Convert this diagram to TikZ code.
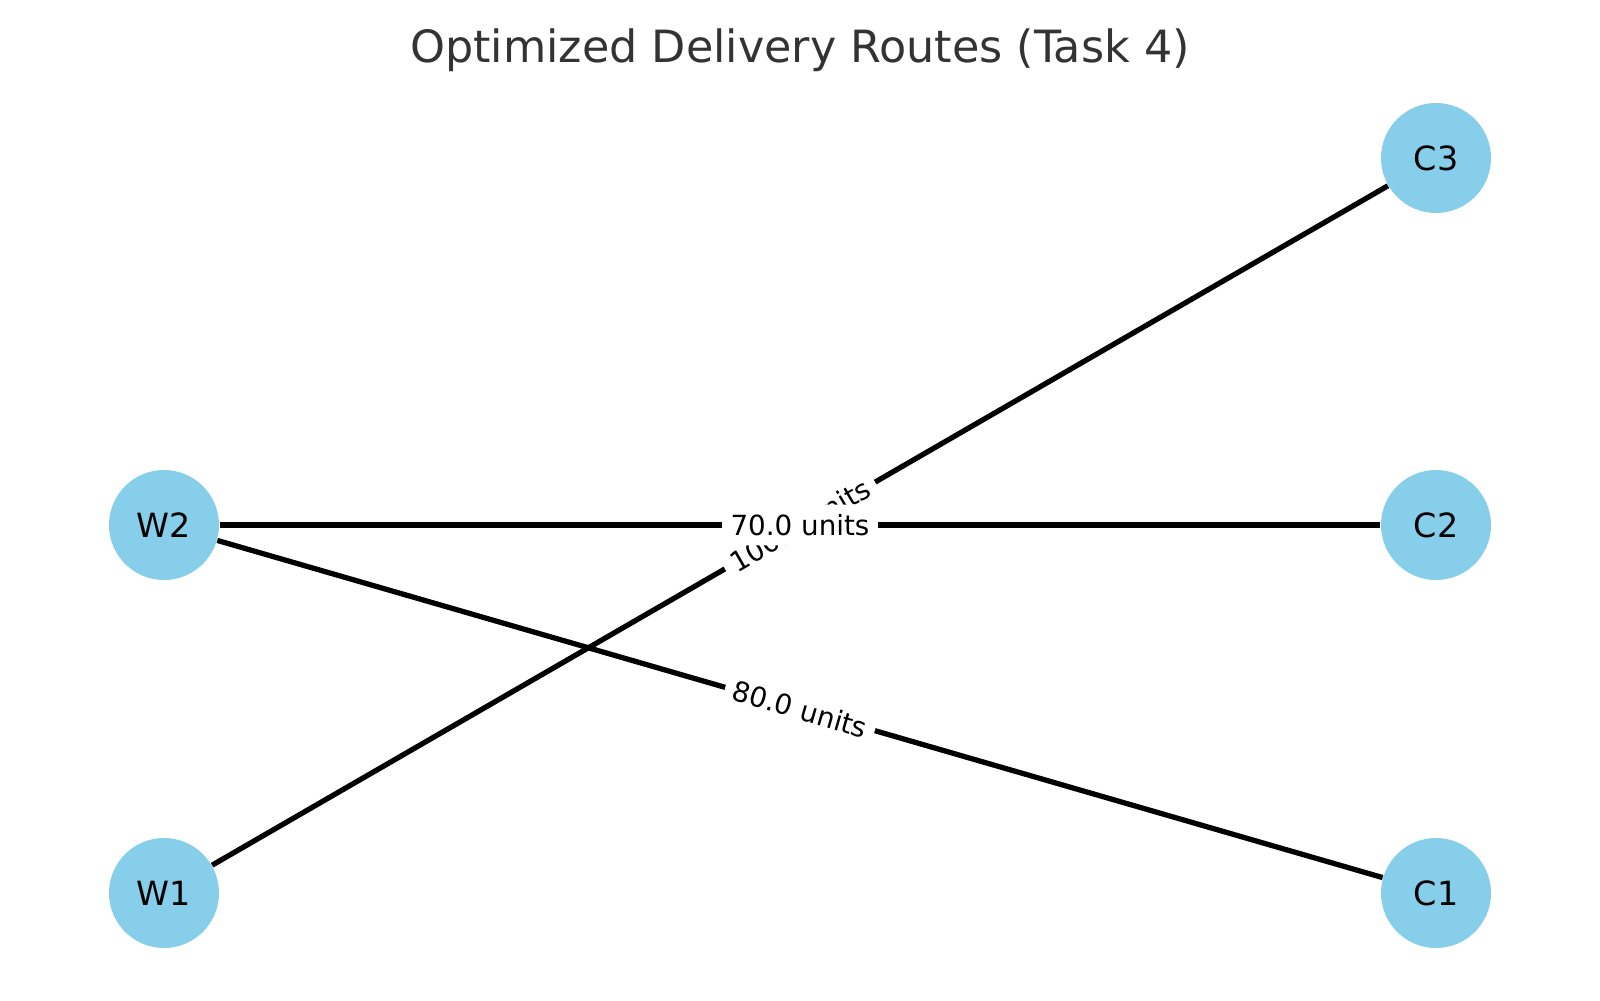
\documentclass[tikz,border=0pt]{standalone}
\usepackage{fontspec}
\setmainfont{DejaVu Sans}
\definecolor{skyblue}{HTML}{87CEEB}
\definecolor{titlegray}{HTML}{333333}
\begin{document}
\begin{tikzpicture}[x=0.36pt,y=0.36pt,
  site/.style={circle,fill=skyblue,draw=none,minimum size=39.6pt,inner sep=0pt,font=\fontsize{12}{14}\selectfont},
  route/.style={line width=1.9pt,black},
  lbl/.style={fill=white,rounded corners=2pt,inner xsep=3pt,inner ysep=3.5pt,font=\fontsize{10}{12}\selectfont,sloped,pos=0.5}]
\useasboundingbox (0,0) rectangle (1600,1000);
\node[site] (W1) at (164,107) {W1};
\node[site] (W2) at (164,475) {W2};
\node[site] (C1) at (1436,107) {C1};
\node[site] (C2) at (1436,475) {C2};
\node[site] (C3) at (1436,842) {C3};
\draw[route] (W1) -- (C3);
\draw[route] (W2) -- (C2);
\draw[route] (W2) -- (C1);
\path (W1) -- (C3) node[lbl] {100.0 units};
\path (W2) -- (C2) node[lbl] {70.0 units};
\path (W2) -- (C1) node[lbl] {80.0 units};
\node[anchor=base,text=titlegray,font=\fontsize{16}{19}\selectfont] (title) at (800,937) {Optimized Delivery Routes (Task 4)};
\end{tikzpicture}
\end{document}
